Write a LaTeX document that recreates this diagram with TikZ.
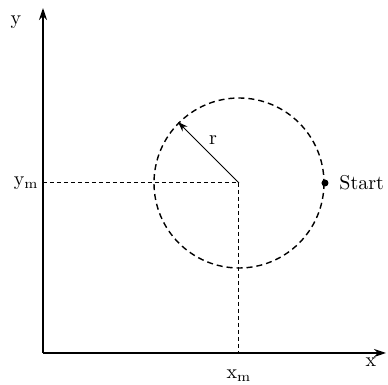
\documentclass[tikz,border=0pt]{standalone}
\usetikzlibrary{arrows.meta}
\begin{document}
\begin{tikzpicture}[x=0.5pt,y=-0.5pt,
  axis/.style={line width=0.8pt,-{Stealth[length=6pt,width=4pt]}},
  guide/.style={line width=0.5pt,dash pattern=on 2pt off 1.5pt},
  circ/.style={line width=0.7pt,dash pattern=on 3pt off 2pt},
  lab/.style={inner sep=0pt}]
\useasboundingbox (0,0) rectangle (388,385);
\coordinate (O) at (43,353);
\coordinate (ytop) at (43,8);
\coordinate (xend) at (386,353);
\coordinate (C) at (239,183);
\coordinate (ym) at (43,183);
\coordinate (xm) at (239,353);
\coordinate (R) at (178,122);
\draw[axis] (O) -- (ytop);
\draw[axis] (O) -- (xend);
\draw[guide] (ym) -- (C) -- (xm);
\draw[circ] (C) circle[radius=85];
\draw[line width=0.5pt,-{Stealth[length=5pt,width=3.5pt]}] (C) -- (R);
\node[lab] (rl) at (213,140) {r};
\node[circle,fill,inner sep=0pt,minimum size=3.5pt] (S) at (325,183) {};
\node[lab,anchor=west] (st) at (339,183) {Start};
\node[lab,anchor=east] (yml) at (39,183) {$\mathrm{y_m}$};
\node[lab] (xml) at (239,376) {$\mathrm{x_m}$};
\node[lab] (xl) at (371,362) {x};
\node[lab] (yl) at (16,22) {y};
\end{tikzpicture}
\end{document}
